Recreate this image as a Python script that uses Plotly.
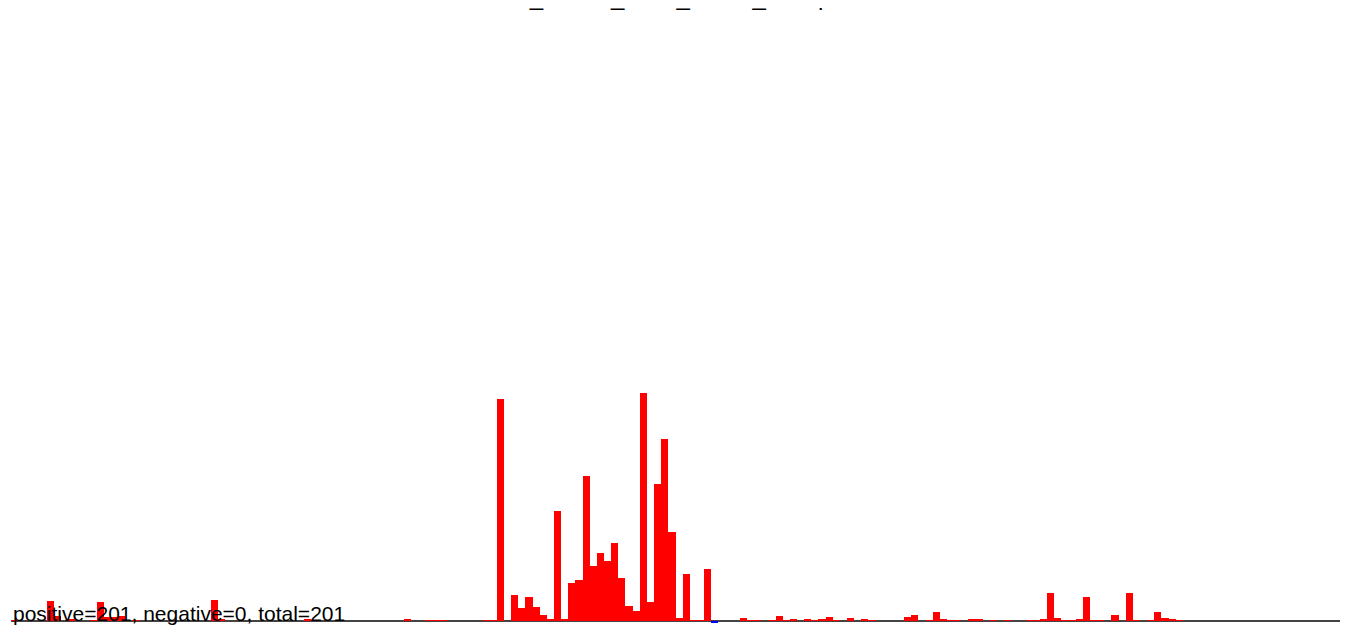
import plotly.graph_objects as go

# bar heights per bin (index 0..185)
values = [
    0.01, 0, 0, 0, 0, 0.20, 0.05, 0, 0.02, 0,
    0, 0.005, 0.19, 0.04, 0.04, 0.05, 0, 0.01, 0, 0,
    0, 0, 0, 0, 0, 0, 0, 0, 0.21, 0.02,
    0, 0, 0, 0, 0, 0, 0, 0, 0, 0,
    0, 0.015, 0, 0, 0, 0, 0, 0, 0, 0,
    0, 0, 0, 0, 0, 0.015, 0, 0, 0.005, 0.005,
    0.005, 0, 0, 0, 0, 0, 0.005, 0.005, 2.22, 0,
    0.26, 0.13, 0.24, 0.14, 0.06, 0.02, 1.10, 0.02, 0.38, 0.41,
    1.45, 0.55, 0.68, 0.60, 0.78, 0.43, 0.15, 0.10, 2.28, 0.19,
    1.37, 1.82, 0.89, 0.03, 0.47, 0.01, 0.01, 0.52, -0.015, 0,
    0, 0, 0.03, 0.005, 0.005, 0, 0.005, 0.05, 0.005, 0.02,
    0, 0.02, 0.005, 0.02, 0.04, 0.005, 0, 0.03, 0, 0.02,
    0.005, 0, 0, 0, 0, 0.04, 0.06, 0, 0.01, 0.09,
    0.02, 0.005, 0.005, 0, 0.02, 0.02, 0, 0.01, 0, 0.005,
    0, 0, 0.01, 0.005, 0.02, 0.28, 0.03, 0.01, 0.01, 0.02,
    0.24, 0.01, 0.01, 0, 0.06, 0, 0.28, 0.01, 0, 0.005,
    0.09, 0.03, 0.02, 0.005, 0, 0, 0, 0, 0, 0,
    0, 0, 0, 0, 0, 0, 0, 0, 0, 0,
    0, 0, 0, 0, 0, 0,
]
bins = list(range(len(values)))
title_text = "user_orders_base_active_stamp"
summary_text = "positive=201, negative=0, total=201"

colors = ["#ff0000" if v >= 0 else "#0000ff" for v in values]

fig = go.Figure(
    go.Bar(x=bins, y=values, marker=dict(color=colors, line=dict(width=0)),
           hoverinfo="x+y")
)

fig.update_layout(
    width=1344, height=625,
    margin=dict(l=3, r=12, t=12, b=10),
    paper_bgcolor="white", plot_bgcolor="white",
    bargap=0, showlegend=False,
    font=dict(family="Liberation Sans, Arial, sans-serif", color="black"),
    title=dict(text=title_text, x=0.483, xanchor="center", xref="container",
               y=1, yanchor="bottom", yref="container", pad=dict(b=3),
               font=dict(size=24, color="black",
                         family="Liberation Sans, Arial, sans-serif")),
    xaxis=dict(range=[-0.5, len(values) - 0.5], showgrid=False, zeroline=False,
               showticklabels=False, ticks="", showline=False, fixedrange=True),
    yaxis=dict(range=[-0.02, 6.01], showgrid=False, showticklabels=False, ticks="",
               zeroline=True, zerolinecolor="#444444", zerolinewidth=1.5,
               showline=False, fixedrange=True),
    annotations=[dict(text=summary_text, x=0, y=0, xref="paper", yref="paper",
                      xanchor="left", yanchor="bottom", yshift=-4, showarrow=False,
                      font=dict(size=21, color="black",
                                family="Liberation Sans, Arial, sans-serif"))],
)

fig.write_html("out.html")
